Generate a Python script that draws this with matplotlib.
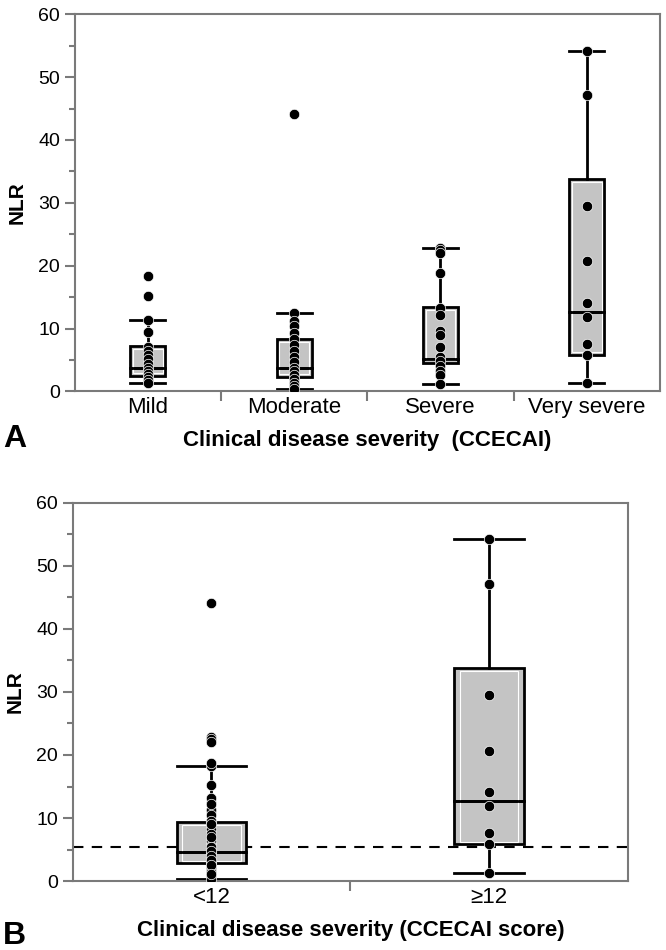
import matplotlib.pyplot as plt
from matplotlib.patches import Rectangle
from matplotlib.ticker import MultipleLocator, FixedLocator
import numpy as np

plt.rcParams['font.family'] = ['Liberation Sans', 'DejaVu Sans']

# Panel A data (NLR by CCECAI category)
cats_a = ["Mild", "Moderate", "Severe", "Very severe"]
mild = [18.3, 15.2, 11.3, 9.5, 7.0, 6.5, 5.8, 5.2, 4.3, 3.8, 3.3, 2.8, 2.3, 1.8, 1.3]
moderate = [44.1, 12.4, 11.2, 10.4, 9.3, 8.3, 7.4, 6.4, 5.5, 4.6, 3.8, 3.2, 2.6, 2.0, 1.4, 0.9, 0.4]
severe = [22.8, 22.5, 22.0, 18.8, 13.2, 12.2, 9.6, 9.0, 7.0, 5.4, 4.8, 4.0, 3.3, 2.6, 1.1]
very_severe = [54.2, 47.1, 29.5, 20.7, 14.1, 11.9, 7.6, 5.8, 1.3]
# box stats: q1, median, q3, whisker low, whisker high
q1_a = [2.4, 2.3, 4.5, 5.8]
med_a = [3.7, 3.8, 5.1, 12.7]
q3_a = [7.2, 8.3, 13.4, 33.8]
wlo_a = [1.3, 0.4, 1.1, 1.3]
whi_a = [11.3, 12.4, 22.8, 54.2]

# Panel B data (CCECAI score groups)
cats_b = ["<12", "≥12"]
below12 = mild + moderate + severe
above12 = very_severe
q1_b = [2.8, 5.8]
med_b = [4.6, 12.7]
q3_b = [9.3, 33.8]
wlo_b = [0.3, 1.3]
whi_b = [18.3, 54.2]
cutoff = 5.4

gray = "#7a7a7a"
boxfill = "#c4c4c4"


def draw_panel(ax, cats, groups, q1, med, q3, wlo, whi, width, xlabel):
    pos = np.arange(1, len(cats) + 1)
    stats = []
    for i in range(len(cats)):
        stats.append(dict(med=med[i], q1=q1[i], q3=q3[i],
                          whislo=wlo[i], whishi=whi[i], fliers=[]))
    ax.bxp(stats, positions=pos, widths=width, patch_artist=True,
           showfliers=False,
           boxprops=dict(facecolor=boxfill, edgecolor="black", linewidth=2),
           whiskerprops=dict(color="black", linewidth=2),
           capprops=dict(color="black", linewidth=2),
           medianprops=dict(color="black", linewidth=2), capwidths=width,
           zorder=2)
    # thin white inner outline like the original rendering
    for i, p in enumerate(pos):
        ax.add_patch(Rectangle((p - width * 0.42, q1[i] + 0.45), width * 0.84,
                               q3[i] - q1[i] - 0.9, facecolor="none",
                               edgecolor="white", linewidth=0.8, zorder=2.5))
        ax.plot([p - width / 2, p + width / 2], [med[i], med[i]],
                color="black", lw=2, zorder=2.6)
    for p, g in zip(pos, groups):
        ax.plot(np.full(len(g), p), g, "o", color="black", markersize=7.5,
                markeredgecolor="white", markeredgewidth=0.5, zorder=3)

    ax.set_xlim(0.5, len(cats) + 0.5)
    ax.set_ylim(0, 60)
    ax.xaxis.set_major_locator(FixedLocator(pos[:-1] + 0.5))
    ax.xaxis.set_major_formatter(plt.NullFormatter())
    ax.xaxis.set_minor_locator(FixedLocator(pos))
    ax.set_xticklabels(cats, minor=True, fontsize=16)
    ax.tick_params(axis="x", which="major", length=7, width=1.5, color=gray)
    ax.tick_params(axis="x", which="minor", length=0, pad=4)
    ax.yaxis.set_major_locator(MultipleLocator(10))
    ax.yaxis.set_minor_locator(MultipleLocator(5))
    ax.tick_params(axis="y", which="major", length=7, width=1.5, color=gray,
                   labelsize=14)
    ax.tick_params(axis="y", which="minor", length=4, width=1.5, color=gray)
    for s in ax.spines.values():
        s.set_color(gray)
        s.set_linewidth(1.5)
    ax.set_ylabel("NLR", fontsize=15, fontweight="bold", labelpad=8)
    ax.set_xlabel(xlabel, fontsize=16, fontweight="bold", labelpad=9)


fig = plt.figure(figsize=(6.66, 9.5), dpi=100)
ax_a = fig.add_axes([0.112, 0.588, 0.879, 0.397])
ax_b = fig.add_axes([0.109, 0.0726, 0.834, 0.398])

draw_panel(ax_a, cats_a, [mild, moderate, severe, very_severe],
           q1_a, med_a, q3_a, wlo_a, whi_a, 0.24,
           "Clinical disease severity  (CCECAI)")
draw_panel(ax_b, cats_b, [below12, above12],
           q1_b, med_b, q3_b, wlo_b, whi_b, 0.25,
           "Clinical disease severity (CCECAI score)")
ax_b.axhline(cutoff, color="black", lw=1.5, ls=(0, (5, 4)), zorder=1.5)

fig.text(0.005, 0.538, "A", fontsize=23, fontweight="bold", va="center")
fig.text(0.005, 0.015, "B", fontsize=23, fontweight="bold", va="center")

fig.savefig("out.png", dpi=100)
